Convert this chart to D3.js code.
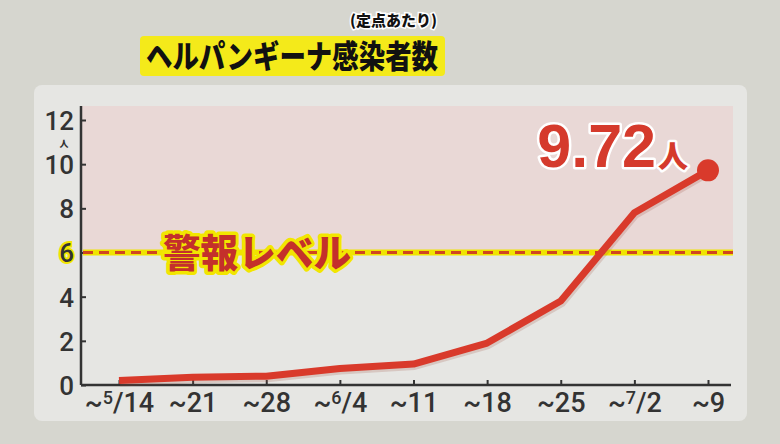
<!DOCTYPE html>
<html lang="ja">
<head>
<meta charset="UTF-8">
<title>ヘルパンギーナ感染者数</title>
<script src="https://d3js.org/d3.v7.min.js"></script>
<style>
  html, body { margin: 0; padding: 0; background: #d6d6cf; }
  svg { display: block; }
  .tick text { font-family: Roboto, "Liberation Sans", Arial, sans-serif; font-weight: 500; fill: #333; }
  .jp { font-family: "Noto Sans CJK JP", sans-serif; font-weight: 900; }
</style>
</head>
<body>
<svg id="chart" width="780" height="444"></svg>
<script>
// data
const weeks = ["5/14", "21", "28", "6/4", "11", "18", "25", "7/2", "9"];
const values = [0.2, 0.35, 0.4, 0.75, 0.95, 1.9, 3.8, 7.8, 9.72];
const yTicks = [0, 2, 4, 6, 8, 10, 12];
const alertLevel = 6;
const title = "ヘルパンギーナ感染者数";
const subtitle = "(定点あたり)";
const alertLabel = "警報レベル";

const svg = d3.select("#chart");

// panel
svg.append("rect").attr("x", 34).attr("y", 85).attr("width", 713).attr("height", 336)
  .attr("rx", 8).attr("fill", "#e6e6e3");

const x = d3.scalePoint().domain(weeks).range([119, 708]);
const y = d3.scaleLinear().domain([0, 12]).range([385, 120]);
const x0 = 81, x1 = 731;

// pink alert zone
svg.append("rect").attr("x", x0).attr("y", 106).attr("width", 733 - x0).attr("height", y(alertLevel) - 106)
  .attr("fill", "#e9d8d6");

// y axis
const yAxis = svg.append("g").attr("transform", `translate(${x0},0)`)
  .call(d3.axisLeft(y).tickValues(yTicks).tickSize(-5).tickPadding(7).tickFormat(d3.format("d")));
yAxis.select(".domain").attr("d", `M0,106V385`).attr("stroke", "#333").attr("stroke-width", 2.5);
yAxis.selectAll(".tick line").attr("stroke", "#333").attr("stroke-width", 2).attr("x2", 5);
yAxis.selectAll(".tick text").attr("font-size", 26).attr("dy", "0.36em");
yAxis.selectAll(".tick").filter(d => d === alertLevel).select("text")
  .attr("fill", "#c4302b").attr("stroke", "#f2e600").attr("stroke-width", 4)
  .attr("paint-order", "stroke").attr("font-weight", "bold");
svg.append("text").attr("class", "jp").attr("x", 64).attr("y", 147)
  .attr("text-anchor", "middle").attr("font-size", 9).attr("font-weight", 700).attr("fill", "#333").text("人");

// x axis
const xAxis = svg.append("g").attr("transform", "translate(0,385)")
  .call(d3.axisBottom(x).tickSize(-5).tickPadding(8).tickFormat(() => ""));
xAxis.select(".domain").attr("d", `M${x0},0H${x1}`).attr("stroke", "#333").attr("stroke-width", 2.5);
xAxis.selectAll(".tick line").attr("stroke", "#333").attr("stroke-width", 2);
xAxis.selectAll(".tick text").each(function(d) {
  const t = d3.select(this).attr("font-size", 27).attr("y", 27).attr("dy", 0);
  t.text(null);
  t.append("tspan").text("~");
  if (d.includes("/")) {
    const [m, dd] = d.split("/");
    t.append("tspan").attr("font-size", 18).attr("dy", -8).text(m);
    t.append("tspan").attr("dy", 8).text("/" + dd);
  } else {
    t.append("tspan").text(d);
  }
});

// alert dashed line
svg.append("line").attr("x1", x0 + 2).attr("x2", 733).attr("y1", y(alertLevel)).attr("y2", y(alertLevel))
  .attr("stroke", "#f0e400").attr("stroke-width", 6);
svg.append("line").attr("x1", x0 + 2).attr("x2", 733).attr("y1", y(alertLevel)).attr("y2", y(alertLevel))
  .attr("stroke", "#d0451f").attr("stroke-width", 3).attr("stroke-dasharray", "10,6");

svg.append("text").attr("class", "jp").attr("x", 163).attr("y", y(alertLevel) + 14)
  .attr("font-size", 39).attr("fill", "#c4302b").attr("stroke", "#f2e600").attr("stroke-width", 7)
  .attr("stroke-linejoin", "round").attr("paint-order", "stroke")
  .attr("textLength", 188).attr("lengthAdjust", "spacingAndGlyphs").text(alertLabel);

// line
const line = d3.line().x((d, i) => x(weeks[i])).y(d => y(d));
svg.append("path").datum(values).attr("d", line).attr("fill", "none")
  .attr("stroke", "#9a4a3a").attr("stroke-opacity", 0.2).attr("stroke-width", 8)
  .attr("transform", "translate(1,2)").attr("stroke-linejoin", "round");
svg.append("path").datum(values).attr("d", line).attr("fill", "none")
  .attr("stroke", "#d93a2b").attr("stroke-width", 7).attr("stroke-linejoin", "round");
const last = values.length - 1;
svg.append("circle").attr("cx", x(weeks[last])).attr("cy", y(values[last])).attr("r", 11).attr("fill", "#d93a2b");

// value label
const vl = svg.append("text").attr("x", 688).attr("y", 167).attr("text-anchor", "end")
  .attr("fill", "#d53a2c").attr("stroke", "#ffffff").attr("stroke-width", 5)
  .attr("stroke-linejoin", "round").attr("paint-order", "stroke");
vl.append("tspan").attr("font-family", "Liberation Sans, Arial, sans-serif").attr("font-weight", "bold")
  .attr("font-size", 61).text(d3.format(".2f")(values[last]));
vl.append("tspan").attr("class", "jp").attr("font-size", 30).attr("dx", 2).text("人");

// title
svg.append("rect").attr("x", 140).attr("y", 36).attr("width", 305).attr("height", 40).attr("rx", 4).attr("fill", "#f4ea1a");
svg.append("text").attr("class", "jp").attr("x", 146).attr("y", 68)
  .attr("font-size", 32).attr("fill", "#111")
  .attr("textLength", 292).attr("lengthAdjust", "spacingAndGlyphs").text(title);
svg.append("text").attr("class", "jp").attr("x", 437).attr("y", 26).attr("text-anchor", "end")
  .attr("font-size", 15).attr("fill", "#111").attr("stroke", "#ffffff").attr("stroke-width", 3)
  .attr("paint-order", "stroke").text(subtitle);
</script>
</body>
</html>
